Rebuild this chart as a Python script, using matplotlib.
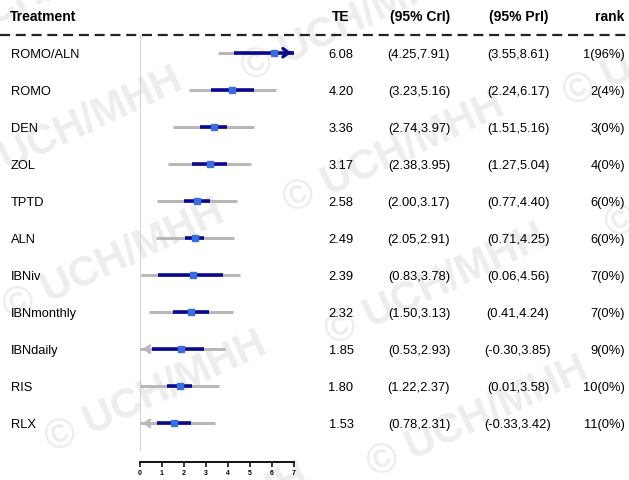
import matplotlib
matplotlib.use("Agg")
import matplotlib.pyplot as plt
from matplotlib.lines import Line2D

plt.rcParams['font.family'] = ['Liberation Sans', 'DejaVu Sans']

# ---- data ----
treatments = ["ROMO/ALN", "ROMO", "DEN", "ZOL", "TPTD", "ALN", "IBNiv",
              "IBNmonthly", "IBNdaily", "RIS", "RLX"]
te = [6.08, 4.20, 3.36, 3.17, 2.58, 2.49, 2.39, 2.32, 1.85, 1.80, 1.53]
cri_lo = [4.25, 3.23, 2.74, 2.38, 2.00, 2.05, 0.83, 1.50, 0.53, 1.22, 0.78]
cri_hi = [7.91, 5.16, 3.97, 3.95, 3.17, 2.91, 3.78, 3.13, 2.93, 2.37, 2.31]
pri_lo = [3.55, 2.24, 1.51, 1.27, 0.77, 0.71, 0.06, 0.41, -0.30, 0.01, -0.33]
pri_hi = [8.61, 6.17, 5.16, 5.04, 4.40, 4.25, 4.56, 4.24, 3.85, 3.58, 3.42]
rank_labels = ["1(96%)", "2(4%)", "3(0%)", "4(0%)", "6(0%)", "6(0%)", "7(0%)",
               "7(0%)", "9(0%)", "10(0%)", "11(0%)"]
x_ticks = [0, 1, 2, 3, 4, 5, 6, 7]

# ---- figure geometry (pixels) ----
W, H = 629, 480
fig = plt.figure(figsize=(W / 100, H / 100), dpi=100)

def fx(px):
    return px / W

def fy(py):
    return 1 - py / H

row0, row_step = 52.7, 37.06
top_px, bot_px = 35, 462
ax_left, ax_right = 140, 294

ax = fig.add_axes([fx(ax_left), fy(bot_px), fx(ax_right - ax_left), (bot_px - top_px) / H])
ax.set_xlim(x_ticks[0], x_ticks[-1])
ax.set_ylim((bot_px - row0) / row_step, (top_px - row0) / row_step)
ax.patch.set_alpha(0)
for s in ["top", "right", "left"]:
    ax.spines[s].set_visible(False)
ax.spines["bottom"].set_linewidth(1.3)
ax.set_xticks(x_ticks)
ax.set_xticklabels([str(t) for t in x_ticks], fontsize=5, fontweight="bold")
ax.tick_params(axis="x", direction="out", length=3.5, width=1.1, pad=2)
ax.set_yticks([])

# null line
ax.axvline(0, ymin=(bot_px - 450) / (bot_px - top_px), ymax=1,
           color="#c8c8c8", lw=1.2, zorder=1)

xmin, xmax = ax.get_xlim()
grey = "#b8b8b8"
navy = "#0a0a90"
pt_col = "#3c6de0"

for i in range(len(treatments)):
    lo_p, hi_p = max(pri_lo[i], xmin), min(pri_hi[i], xmax)
    lo_c, hi_c = max(cri_lo[i], xmin), min(cri_hi[i], xmax)
    ax.plot([lo_p, hi_p], [i, i], color=grey, lw=2.2, solid_capstyle="butt", zorder=2)
    ax.plot([lo_c, hi_c], [i, i], color=navy, lw=2.6, solid_capstyle="butt", zorder=3)
    # truncated intervals get arrow heads
    if pri_lo[i] < xmin:
        ax.annotate("", xy=(xmin, i), xytext=(xmin + 0.3, i),
                    arrowprops=dict(arrowstyle="->,head_length=0.35,head_width=0.25",
                                    color=grey, lw=2.0), zorder=2)
    if cri_hi[i] > xmax:
        ax.annotate("", xy=(xmax, i), xytext=(xmax - 0.3, i),
                    arrowprops=dict(arrowstyle="->,head_length=0.4,head_width=0.3",
                                    color=navy, lw=2.4), zorder=3)
    ax.plot([te[i]], [i], marker="s", ms=5, color=pt_col, mec=pt_col, zorder=4)

# ---- table text ----
fs_head = 10
fs_row = 9.3
fig.text(fx(10), fy(17), "Treatment", fontsize=fs_head, fontweight="bold", ha="left", va="center")
fig.text(fx(341), fy(17), "TE", fontsize=fs_head, fontweight="bold", ha="center", va="center")
fig.text(fx(420), fy(17), "(95% CrI)", fontsize=fs_head, fontweight="bold", ha="center", va="center")
fig.text(fx(519), fy(17), "(95% PrI)", fontsize=fs_head, fontweight="bold", ha="center", va="center")
fig.text(fx(624), fy(17), "rank", fontsize=fs_head, fontweight="bold", ha="right", va="center")

fig.add_artist(Line2D([0, 1], [fy(35), fy(35)], transform=fig.transFigure,
                      color="#222222", lw=1.6, dashes=(4.5, 2.6)))

for i, name in enumerate(treatments):
    y = fy(row0 + row_step * i + 2)
    fig.text(fx(11), y, name, fontsize=fs_row, ha="left", va="center")
    fig.text(fx(341), y, f"{te[i]:.2f}", fontsize=fs_row, ha="center", va="center")
    fig.text(fx(419), y, f"({cri_lo[i]:.2f},{cri_hi[i]:.2f})", fontsize=fs_row, ha="center", va="center")
    fig.text(fx(518), y, f"({pri_lo[i]:.2f},{pri_hi[i]:.2f})", fontsize=fs_row, ha="center", va="center")
    fig.text(fx(625), y, rank_labels[i], fontsize=fs_row, ha="right", va="center")

# ---- copyright mark, tiled ----
ox, oy = 6, 311
ax_vec = (280, -107)
bx_vec = (42, 132)
for k in range(-1, 3):
    for m in range(-3, 3):
        px = ox + k * ax_vec[0] + m * bx_vec[0]
        py = oy + k * ax_vec[1] + m * bx_vec[1]
        if -260 < px < W + 20 and -60 < py < H + 120:
            fig.text(fx(px), fy(py), "© UCH/MHH", fontsize=30, fontweight="bold",
                     color="#ededed", rotation=25, rotation_mode="anchor",
                     ha="left", va="center", zorder=-5)

fig.savefig("out.png", dpi=100)
